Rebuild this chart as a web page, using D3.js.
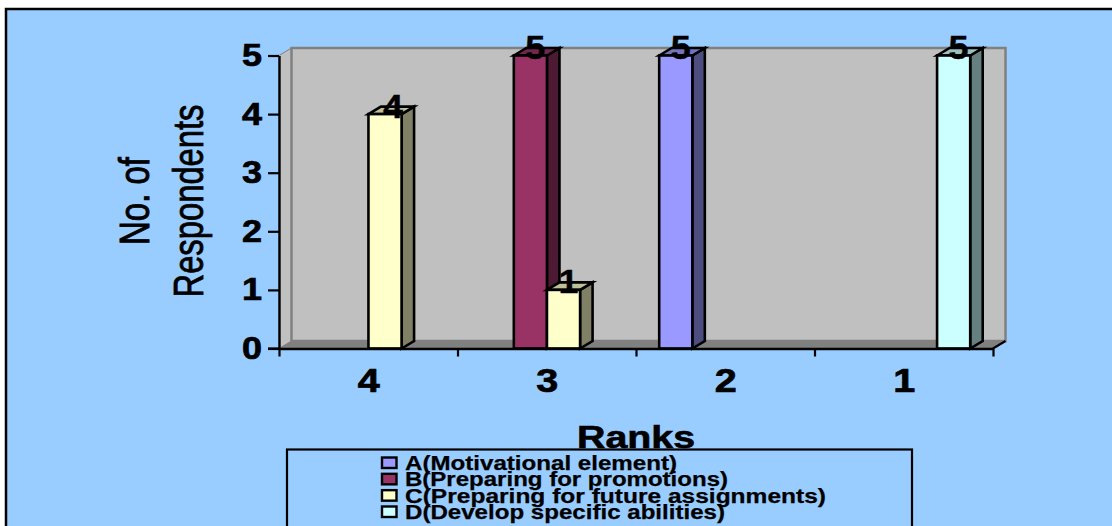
<!DOCTYPE html>
<html>
<head>
<meta charset="utf-8">
<script src="https://cdn.jsdelivr.net/npm/d3@7/dist/d3.min.js"></script>
<style>
html,body{margin:0;padding:0;background:#fff;overflow:hidden}
svg{display:block}
text{font-family:"Liberation Sans",Arial,sans-serif;fill:#000}
</style>
</head>
<body>
<svg id="c" width="1112" height="526"></svg>
<script>
const categories = ["4","3","2","1"];
const seriesNames = ["A(Motivational element)","B(Preparing for promotions)","C(Preparing for future assignments)","D(Develop specific abilities)"];
const seriesKeys = ["A","B","C","D"];
const valuesA = [0,0,5,0];
const valuesB = [0,5,0,0];
const valuesC = [4,1,0,0];
const valuesD = [0,0,0,5];
const yTicks = [0,1,2,3,4,5];
const fillColors = ["#9999FF","#993366","#FFFFCC","#CCFFFF"];
const sideColors = ["#4D4D80","#4D1A33","#808066","#668080"];
const topColors = ["#7373BF","#732650","#BFBF99","#99BFBF"];
const legendTextWidths = [272,323,421,320];

const seriesValues = [valuesA,valuesB,valuesC,valuesD];
const svg = d3.select("#c");
const DX = 12.5, DY = 7.5;

const x0 = d3.scaleBand().domain(categories).range([279,993]).padding(0);
const x1 = d3.scaleBand().domain(seriesKeys).range([23.2,155.7]).padding(0);
const y = d3.scaleLinear().domain([0,5]).range([348.5,55.5]);

// frame / background
svg.append("rect").attr("x",6).attr("y",9).attr("width",1110).attr("height",524)
  .attr("fill","#99CCFF").attr("stroke","#000").attr("stroke-width",2.5);

const x_L = x0.range()[0], x_R = x0.range()[1], y0 = y(0), yT = y(5);
// left wall
svg.append("polygon").attr("points",[[x_L,yT],[x_L+DX,yT-DY],[x_L+DX,y0-DY],[x_L,y0]].join(" "))
  .attr("fill","#C0C0C0").attr("stroke","#808080").attr("stroke-width",1);
// back wall
svg.append("rect").attr("x",x_L+DX).attr("y",yT-DY).attr("width",x_R-x_L).attr("height",y0-yT)
  .attr("fill","#C0C0C0").attr("stroke","#808080").attr("stroke-width",2.5);
// floor
svg.append("polygon").attr("points",[[x_L,y0],[x_L+DX,y0-DY],[x_R+DX,y0-DY],[x_R,y0]].join(" "))
  .attr("fill","#808080");
svg.append("line").attr("x1",x_R).attr("y1",y0).attr("x2",x_R+DX).attr("y2",y0-DY)
  .attr("stroke","#000").attr("stroke-width",2.2);

// bars
const bars = [];
categories.forEach((c,ci)=>seriesKeys.forEach((s,si)=>{
  const v = seriesValues[si][ci];
  if(v>0) bars.push({c,s,si,v});
}));
const barG = svg.selectAll("g.bar").data(bars).join("g").attr("class","bar")
  .attr("stroke","#000").attr("stroke-width",2.6).attr("stroke-linejoin","miter");
barG.each(function(d){
  const g = d3.select(this);
  const l = x0(d.c)+x1(d.s), r = l+x1.bandwidth(), t = y(d.v), b = y(0);
  g.append("polygon").attr("points",[[r,t],[r+DX,t-DY],[r+DX,b-DY],[r,b]].join(" ")).attr("fill",sideColors[d.si]);
  g.append("polygon").attr("points",[[l,t],[l+DX,t-DY],[r+DX,t-DY],[r,t]].join(" ")).attr("fill",topColors[d.si]);
  g.append("rect").attr("x",l).attr("y",t).attr("width",r-l).attr("height",b-t).attr("fill",fillColors[d.si]);
});

// axes
const gy = svg.append("g").attr("transform",`translate(${x_L},0)`)
  .call(d3.axisLeft(y).tickValues(yTicks).tickSize(11).tickSizeOuter(0).tickFormat(""));
const gx = svg.append("g").attr("transform",`translate(0,${y0})`)
  .call(d3.axisBottom(d3.scaleLinear().domain([0,4]).range([x_L,x_R])).ticks(4).tickSize(8).tickSizeOuter(0).tickFormat(""));
[gy,gx].forEach(g=>{
  g.selectAll("line").attr("stroke","#000").attr("stroke-width",2.2);
  g.selectAll("path").attr("stroke","#000").attr("stroke-width",2.4);
});
svg.append("line").attr("x1",268).attr("x2",x_L).attr("y1",y0).attr("y2",y0).attr("stroke","#000").attr("stroke-width",2.2);

// helper: stretched text
function label(parent,str,x,yy,size,len,opts={}){
  return parent.append("text").attr("x",x).attr("y",yy).text(str)
    .attr("font-size",size).attr("font-weight",opts.weight||"bold")
    .attr("text-anchor",opts.anchor||"middle")
    .attr("textLength",len).attr("lengthAdjust","spacingAndGlyphs")
    .attr("stroke","#000").attr("stroke-width",opts.sw===undefined?0.7:opts.sw)
    .attr("transform",opts.transform||null);
}

// y tick labels
yTicks.forEach(v=>label(svg,String(v),252,y(v)+10.5,32,20));
// category labels
categories.forEach(c=>label(svg,c,x0(c)+x0.bandwidth()/2+0.5,392,33,22));
// value labels
bars.forEach(d=>{
  label(svg,String(d.v),x0(d.c)+x1(d.s)+x1.bandwidth()/2+(d.v===4?8:5),y(d.v)+3.5,33,20,{sw:0.4});
});

// titles
label(svg,"Ranks",636,447.5,31,118,{sw:0.6});
label(svg,"No. of",0,0,43,88,{weight:"normal",transform:"translate(149,201) rotate(-90)",sw:1});
label(svg,"Respondents",0,0,43,193,{weight:"normal",transform:"translate(203,201) rotate(-90)",sw:0.8});

// legend
svg.append("rect").attr("x",287).attr("y",449.5).attr("width",625).attr("height",120)
  .attr("fill","none").attr("stroke","#000").attr("stroke-width",2.2);
const ly = d3.scalePoint().domain(seriesKeys).range([470,519]);
seriesKeys.forEach((s,i)=>{
  svg.append("rect").attr("x",382).attr("y",ly(s)-12.5).attr("width",14.5).attr("height",10.5)
    .attr("fill",fillColors[i]).attr("stroke","#000").attr("stroke-width",2.4);
  label(svg,seriesNames[i],405,ly(s),20,legendTextWidths[i],{anchor:"start",sw:0.25});
});
</script>
</body>
</html>
